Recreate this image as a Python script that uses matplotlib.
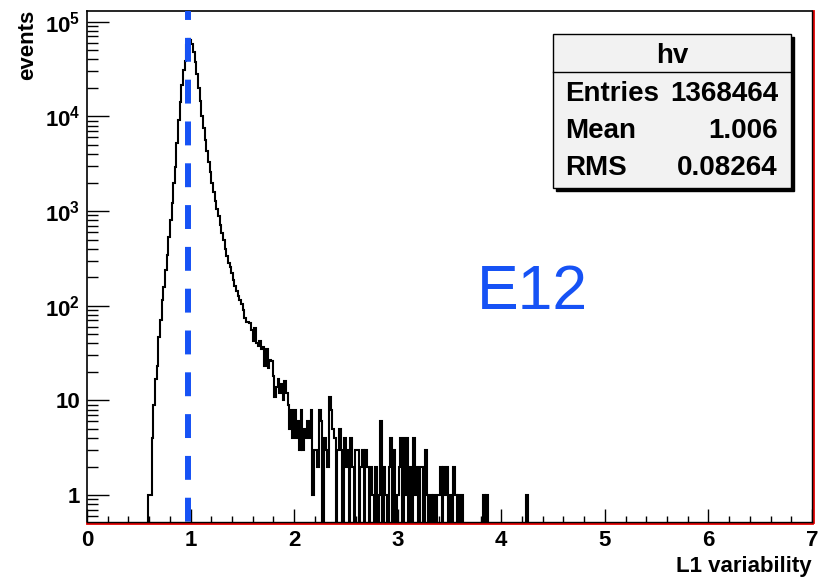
import numpy as np
import matplotlib
matplotlib.use('Agg')
import matplotlib.pyplot as plt
from matplotlib.patches import Rectangle
from matplotlib.lines import Line2D
from matplotlib.ticker import FixedLocator, FixedFormatter, LogLocator, NullFormatter, MultipleLocator

plt.rcParams['font.family'] = ['Liberation Sans', 'DejaVu Sans']
plt.rcParams['font.weight'] = 'bold'
plt.rcParams['mathtext.fontset'] = 'custom'
plt.rcParams['mathtext.rm'] = 'Liberation Sans:bold'
plt.rcParams['mathtext.bf'] = 'Liberation Sans:bold'

# histogram "hv": 500 bins on 0..8, shown on 0..7
n_bins = 500
x_lo, x_hi = 0.0, 8.0

# peak region, bins 37..86
core_start = 37
core_counts = [1, 1, 4, 9, 17, 23, 47, 70, 114, 158,
               237, 342, 535, 800, 1230, 1960, 2930, 5200, 9100, 14200,
               21400, 30800, 38900, 56600, 66000, 64000, 58000, 48000, 38000, 28000,
               20000, 14500, 10000, 7500, 5700, 4300, 3300, 2600, 2000, 1600,
               1280, 1050, 880, 720, 590, 495, 400, 335, 285, 255]

# tail, bins 87..226
tail_start = 87
tail_counts = [220, 185, 160, 145, 128, 114, 104, 90, 74, 68, 68, 66,
               55, 42, 58, 40, 38, 42, 35, 37, 23, 35, 22, 27, 26, 18,
               11, 14, 17, 12, 15, 10, 16, 12, 9, 5, 8, 4, 8, 4, 6, 3, 8,
               3, 5, 4, 6, 4, 8, 1, 3, 3, 2, 8, 6, 0, 4, 3, 2, 11,
               8, 5, 4, 0, 3, 5, 3, 0, 4, 2, 3, 0, 4, 2, 0, 3, 3, 0, 2, 3,
               0, 3, 2, 0, 2,
               1, 0, 2, 0, 1, 6, 0, 2, 1, 0, 2, 4, 0, 3, 0, 1, 2, 4, 0, 4,
               1, 4, 0, 2, 0, 4, 1, 2, 0, 2, 2, 0, 3, 1, 0, 1, 0, 1, 0, 1,
               1, 2, 0, 2, 1, 2, 0, 1, 0, 2, 1, 0, 1, 0, 1]

# isolated far-tail entries
far_bins = [239, 241, 265]
far_counts = [1, 1, 1]

entries = '1368464'
mean = '1.006'
rms = '0.08264'
mark_x = 0.975
label_text = 'E12'

counts = np.zeros(n_bins)
counts[core_start:core_start + len(core_counts)] = core_counts
counts[tail_start:tail_start + len(tail_counts)] = tail_counts
counts[far_bins] = far_counts
edges = np.linspace(x_lo, x_hi, n_bins + 1)

W, H = 828, 577
def fx(p):
    return p / W
def fy(p):
    return 1 - p / H

fig = plt.figure(figsize=(W / 100, H / 100), dpi=100)
ax = fig.add_axes([fx(87), fy(522), fx(812) - fx(87), fy(11) - fy(522)])

# empty bins go down to the frame, as ROOT draws them
ax.stairs(np.where(counts > 0, counts, 1e-3), edges, baseline=None,
          color='black', lw=1.5, zorder=3)

# dashed marker, drawn top to bottom so the dash phase matches
blue = '#1652f5'
ax.plot([mark_x, mark_x], [1, 0], transform=ax.get_xaxis_transform(),
        color=blue, lw=4.3, linestyle=(2.5, (4.0, 3.0)), solid_capstyle='butt',
        zorder=4, clip_on=False)

ax.set_yscale('log')
ax.set_xlim(0, 7)
ax.set_ylim(0.52, 1.3e5)

ax.xaxis.set_major_locator(MultipleLocator(1))
ax.xaxis.set_minor_locator(MultipleLocator(0.2))
ax.yaxis.set_major_locator(FixedLocator([1, 10, 1e2, 1e3, 1e4, 1e5]))
ax.yaxis.set_major_formatter(FixedFormatter(['1', '10', r'$10^{2}$', r'$10^{3}$',
                                             r'$10^{4}$', r'$10^{5}$']))
ax.yaxis.set_minor_locator(LogLocator(base=10, subs=np.arange(2, 10), numticks=20))
ax.yaxis.set_minor_formatter(NullFormatter())

ax.tick_params(axis='both', which='both', direction='in', width=1, colors='black',
               top=False, right=False)
ax.tick_params(axis='x', which='major', length=10, pad=5, labelsize=16)
ax.tick_params(axis='x', which='minor', length=5)
ax.tick_params(axis='y', which='major', length=16, pad=5, labelsize=16)
ax.tick_params(axis='y', which='minor', length=8)

for s in ['top', 'left']:
    ax.spines[s].set_linewidth(1.2)
    ax.spines[s].set_color('black')
for s in ['bottom', 'right']:
    ax.spines[s].set_color('#e00000')
    ax.spines[s].set_linewidth(2)
    ax.spines[s].set_position(('outward', 1))
ax.add_line(Line2D([0, 1], [0, 0], transform=ax.transAxes, color='black', lw=1, clip_on=False, zorder=5))
ax.add_line(Line2D([1, 1], [0, 1], transform=ax.transAxes, color='black', lw=1, clip_on=False, zorder=5))

fig.text(fx(27.5), fy(10), 'events', rotation=90, ha='center', va='top',
         fontsize=16, fontweight='bold')
fig.text(fx(812), fy(572), 'L1 variability', ha='right', va='baseline',
         fontsize=16, fontweight='bold')

# stats box
bx0, bx1, by0, by1 = 553, 791, 34, 188
fig.add_artist(Rectangle((fx(bx0 + 3), fy(by1 + 3)), fx(bx1) - fx(bx0), fy(by0) - fy(by1),
                         transform=fig.transFigure, facecolor='black', edgecolor='black', lw=1))
fig.add_artist(Rectangle((fx(bx0), fy(by1)), fx(bx1) - fx(bx0), fy(by0) - fy(by1),
                         transform=fig.transFigure, facecolor='#f2f2f2', edgecolor='black', lw=1))
fig.add_artist(Line2D([fx(bx0), fx(bx1)], [fy(72), fy(72)], transform=fig.transFigure,
                      color='black', lw=1))
fig.text(fx((bx0 + bx1) / 2), fy(63), 'hv', ha='center', va='baseline', fontsize=20, fontweight='bold')
rows = [('Entries', entries, 101), ('Mean', mean, 138), ('RMS', rms, 175)]
for name, val, base in rows:
    fig.text(fx(565), fy(base), name, ha='left', va='baseline', fontsize=20, fontweight='bold')
    fig.text(fx(778), fy(base), val, ha='right', va='baseline', fontsize=20, fontweight='bold')

fig.text(fx(477), fy(309), label_text, ha='left', va='baseline', fontsize=45,
         fontweight='normal', color=blue)

fig.savefig('out.png', dpi=100)
